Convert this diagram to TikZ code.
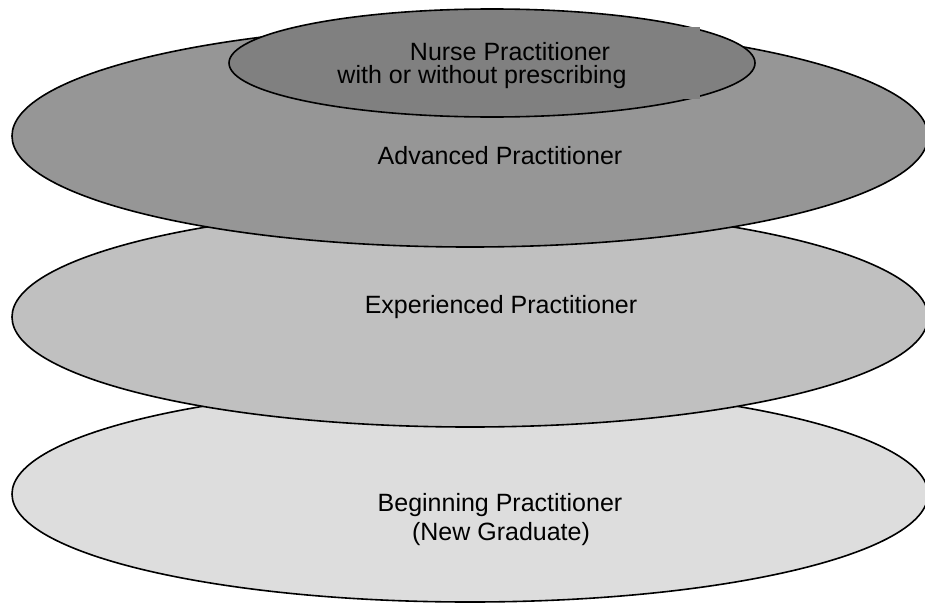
\documentclass[tikz,border=0pt]{standalone}
\usepackage{fontspec}
\setmainfont{Liberation Sans}
\usepackage{xcolor}
\usepackage{tikz}
\usetikzlibrary{calc}
\definecolor{begfill}{HTML}{DDDDDD}
\definecolor{expfill}{HTML}{C0C0C0}
\definecolor{advfill}{HTML}{969696}
\definecolor{npfill}{HTML}{808080}

\begin{document}
\begin{tikzpicture}[x=0.5pt, y=-0.5pt,
        level/.style={draw=black, line width=0.8pt},
        lbl/.style={font=\fontsize{12.5}{15}\selectfont, anchor=base, inner sep=0pt}]
        \useasboundingbox (0,0) rectangle (925,605);
        %LEVELS
        \coordinate (Beg) at (470,494);
        \coordinate (Exp) at (470,317);
        \coordinate (Adv) at (470,136);
        \coordinate (NP) at (492,63);
        \filldraw[level, fill=begfill] (Beg) ellipse (458 and 108);
        \filldraw[level, fill=expfill] (Exp) ellipse (458 and 110);
        \filldraw[level, fill=advfill] (Adv) ellipse (458 and 111);
        \filldraw[level, fill=npfill] (NP) ellipse (263 and 54);
        %TEXT BOX
        \fill[npfill] (320,27) rectangle (700,99);
        %LABELS
        \node[lbl] (np1) at (510,60) {Nurse Practitioner};
        \node[lbl] (np2) at (482,83) {with or without prescribing};
        \node[lbl] (adv) at (500,164) {Advanced Practitioner};
        \node[lbl] (exp) at (501,313) {Experienced Practitioner};
        \node[lbl] (beg1) at (500,511) {Beginning Practitioner};
        \node[lbl] (beg2) at (501,540) {(New Graduate)};
    \end{tikzpicture}
\end{document}
